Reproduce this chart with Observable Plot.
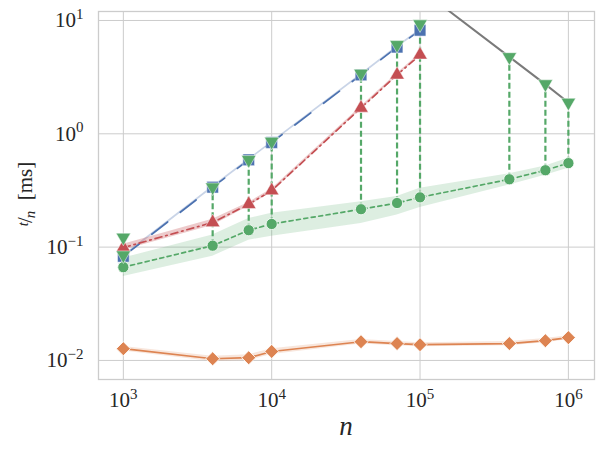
<!DOCTYPE html>
<html><head><meta charset="utf-8">
<script src="https://cdn.jsdelivr.net/npm/d3@7"></script>
<script src="https://cdn.jsdelivr.net/npm/@observablehq/plot@0.6"></script>
<style>
body{margin:0;background:#fff}
#chart svg{display:block}
</style>
</head><body><div id="chart"></div>
<script>
// x values (n)
const nAll = [1000, 4000, 7000, 10000, 40000, 70000, 100000, 400000, 700000, 1000000];
const nShort = [1000, 4000, 7000, 10000, 40000, 70000, 100000];

// orange diamonds (solid) with band
const orangeV  = [0.0127, 0.01035, 0.01057, 0.0120, 0.01463, 0.0141, 0.01377, 0.0141, 0.01494, 0.0159];
const orangeLo = [0.0121, 0.0098, 0.0100, 0.0113, 0.0140, 0.0135, 0.0132, 0.0135, 0.0143, 0.0153];
const orangeHi = [0.0133, 0.0109, 0.0112, 0.0127, 0.0153, 0.0147, 0.0143, 0.0147, 0.0156, 0.0165];

// green circles (dotted) with band
const greenV  = [0.0665, 0.103, 0.141, 0.160, 0.216, 0.245, 0.275, 0.397, 0.477, 0.551];
const greenLo = [0.055, 0.083, 0.115, 0.125, 0.162, 0.192, 0.224, 0.354, 0.430, 0.497];
const greenHi = [0.080, 0.128, 0.179, 0.199, 0.252, 0.279, 0.331, 0.443, 0.520, 0.610];

// blue squares (dashed)
const blueV  = [0.083, 0.338, 0.589, 0.837, 3.31, 5.82, 8.2];
const blueLo = [0.081, 0.330, 0.576, 0.820, 3.24, 5.70, 8.02];
const blueHi = [0.085, 0.346, 0.602, 0.854, 3.38, 5.94, 8.38];

// red triangles (dash-dot)
const redV  = [0.099, 0.165, 0.239, 0.315, 1.69, 3.31, 4.97];
const redLo = [0.094, 0.155, 0.230, 0.305, 1.64, 3.22, 4.85];
const redHi = [0.106, 0.176, 0.248, 0.325, 1.74, 3.40, 5.10];

// green down-triangles (maxima)
const triN = [1000, 1000, 4000, 7000, 10000, 40000, 70000, 100000, 400000, 700000, 1000000];
const triV = [0.122, 0.085, 0.338, 0.590, 0.855, 3.40, 6.10, 9.30, 4.77, 2.75, 1.89];

// grey reference line
const greyN = [100000, 400000, 700000, 1000000];
const greyV = [19.0, 4.77, 2.73, 1.89];

// ticks
const xTicks = [1e3, 1e4, 1e5, 1e6];
const yTicks = [1e-2, 1e-1, 1, 10];

const orange = nAll.map((n, i) => ({n, v: orangeV[i], lo: orangeLo[i], hi: orangeHi[i]}));
const green = nAll.map((n, i) => ({n, v: greenV[i], lo: greenLo[i], hi: greenHi[i]}));
const blue = nShort.map((n, i) => ({n, v: blueV[i], lo: blueLo[i], hi: blueHi[i]}));
const red = nShort.map((n, i) => ({n, v: redV[i], lo: redLo[i], hi: redHi[i]}));
const tri = triN.map((n, i) => ({n, v: triV[i]}));
const grey = greyN.map((n, i) => ({n, v: greyV[i]}));
const maxByN = d3.rollup(tri, g => d3.max(g, d => d.v), d => d.n);
const segs = green.map(d => ({n: d.n, lo: d.v, hi: maxByN.get(d.n)}));

const C = {blue: "#4C72B0", orange: "#DD8452", green: "#55A868", red: "#C44E52"};
const fmt = d => "10^" + Math.round(Math.log10(d));
const FONT = "'Liberation Serif', serif";

const chart = Plot.plot({
  width: 603, height: 451,
  marginLeft: 98, marginRight: 9, marginTop: 11, marginBottom: 72,
  x: {type: "log", domain: [680, 1.5e6]},
  y: {type: "log", domain: [0.00679, 12]},
  style: "font-family: 'Liberation Serif', serif; font-size: 21px; color: #262626; background: #fff;",
  marks: [
    Plot.gridX(xTicks, {stroke: "#cccccc", strokeOpacity: 1, strokeWidth: 1}),
    Plot.gridY(yTicks, {stroke: "#cccccc", strokeOpacity: 1, strokeWidth: 1}),
    Plot.frame({stroke: "#cccccc", strokeWidth: 1.3}),
    Plot.axisX(xTicks, {tickSize: 0, tickPadding: 13, tickFormat: fmt, label: null, fontSize: 21, fontFamily: "Liberation Serif"}),
    Plot.axisY(yTicks, {tickSize: 0, tickPadding: 15, tickFormat: fmt, label: null, fontSize: 21, fontFamily: "Liberation Serif"}),
    Plot.areaY(green, {x: "n", y1: "lo", y2: "hi", fill: C.green, fillOpacity: 0.2}),
    Plot.areaY(orange, {x: "n", y1: "lo", y2: "hi", fill: C.orange, fillOpacity: 0.2}),
    Plot.areaY(blue, {x: "n", y1: "lo", y2: "hi", fill: C.blue, fillOpacity: 0.3}),
    Plot.areaY(red, {x: "n", y1: "lo", y2: "hi", fill: C.red, fillOpacity: 0.3}),
    Plot.ruleX(segs, {x: "n", y1: "lo", y2: "hi", stroke: C.green, strokeWidth: 2.2, strokeDasharray: "6,3"}),
    Plot.line(grey, {x: "n", y: "v", stroke: "#7a7a7a", strokeWidth: 2, clip: true}),
    Plot.line(blue, {x: "n", y: "v", stroke: C.blue, strokeWidth: 1.7, strokeDasharray: "20,16"}),
    Plot.line(red, {x: "n", y: "v", stroke: C.red, strokeWidth: 1.7, strokeDasharray: "7,4,1.5,4"}),
    Plot.line(green, {x: "n", y: "v", stroke: C.green, strokeWidth: 1.7, strokeDasharray: "4,3.5"}),
    Plot.line(orange, {x: "n", y: "v", stroke: C.orange, strokeWidth: 1.7}),
    Plot.dot(blue, {x: "n", y: "v", symbol: "square", r: 6.6, fill: C.blue, stroke: "white", strokeWidth: 0.5}),
    Plot.dot(red, {x: "n", y: "v", symbol: "triangle", r: 5.4, fill: C.red, stroke: "white", strokeWidth: 0.5}),
    Plot.dot(green, {x: "n", y: "v", symbol: "circle", r: 5.6, fill: C.green, stroke: "white", strokeWidth: 0.8}),
    Plot.dot(orange, {x: "n", y: "v", symbol: "square", rotate: 45, r: 5.6, fill: C.orange, stroke: "white", strokeWidth: 0.8}),
    Plot.dot(tri, {x: "n", y: "v", symbol: "triangle", rotate: 180, r: 5.4, fill: C.green, stroke: "white", strokeWidth: 0.5})
  ]
});

const svg = d3.select(chart);
svg.selectAll("text").each(function () {
  const t = d3.select(this);
  const s = t.text();
  const m = /^10\^(-?\d+)$/.exec(s);
  if (!m) return;
  t.text("");
  t.append("tspan").text("10");
  t.append("tspan").style("font-size", "15px").attr("dy", "-0.55em").text(m[1].replace("-", "\u2212"));
});

// y label: t/n [ms] (nice fraction)
const yl = svg.append("text")
  .attr("transform", "translate(32,194) rotate(-90)")
  .attr("text-anchor", "middle").style("font-size", "21px").attr("fill", "#262626");
yl.append("tspan").style("font-style", "italic").style("font-size", "15px").attr("dy", "-4").text("t");
yl.append("tspan").attr("dy", "4").attr("dx", "-1").text("/");
yl.append("tspan").style("font-style", "italic").style("font-size", "15px").attr("dy", "3").attr("dx", "-1").text("n");
yl.append("tspan").attr("dy", "-3").text("\u2002[ms]");

// x label
svg.append("text")
  .attr("x", 346).attr("y", 435)
  .attr("text-anchor", "middle").style("font-size", "27px").style("font-style", "italic").attr("fill", "#262626")
  .text("n");

svg.selectAll("text").style("font-family", FONT);

document.getElementById("chart").append(chart);
</script>
</body></html>
